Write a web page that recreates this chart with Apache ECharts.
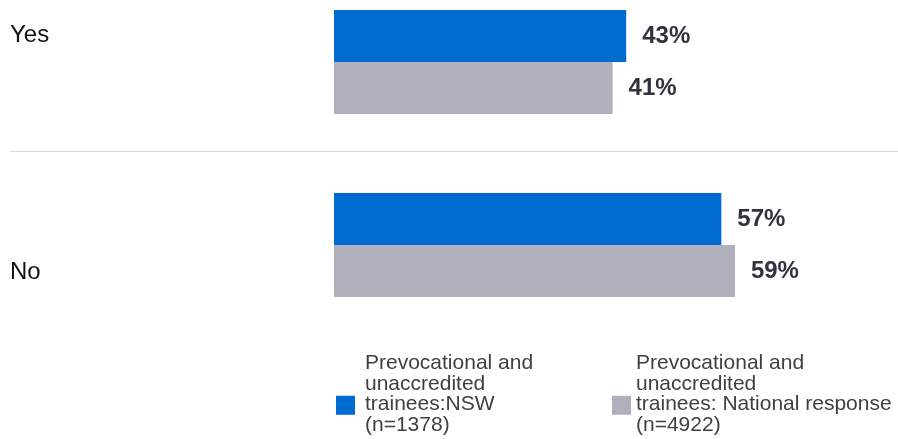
<!DOCTYPE html>
<html>
<head>
<meta charset="utf-8">
<script src="https://cdn.jsdelivr.net/npm/echarts@6/dist/echarts.min.js"></script>
<style>
    html, body { margin: 0; padding: 0; background: #fff; }
    #chart { width: 898px; height: 439px; }
</style>
</head>
<body>
<div id="chart"></div>
<script>
// data
var categories = ['Yes', 'No'];
var seriesNames = [
    'Prevocational and\nunaccredited\ntrainees:NSW\n(n=1378)',
    'Prevocational and\nunaccredited\ntrainees: National response\n(n=4922)'
];
var nswValues = [43, 57];
var nationalValues = [41, 59];
var colors = ['#006bd1', '#b0b0bc'];

var FONT = 'Arial, "Liberation Sans", sans-serif';

//图例设置
function makeLegend(name, left, padLeft){
    return {
        data: [name],
        left: left,
        top: 353,
        padding: 0,
        itemWidth: 19,
        itemHeight: 19,
        icon: 'rect',
        selectedMode: false,
        formatter: function(n){
            return n + '\n{s| }';
        },
        textStyle: {
            fontFamily: FONT,
            fontSize: 21,
            lineHeight: 20.5,
            color: '#404040',
            padding: [0, 0, 0, padLeft],
            rich: {
                s: { fontSize: 10, lineHeight: 22 }
            }
        }
    };
}

function makeSeries(name, values, color){
    return {
        name: name,
        type: 'bar',
        barWidth: 52,
        barGap: '0%',
        clip: false,
        data: values,
        itemStyle: { color: color },
        label: {
            show: true,
            position: 'right',
            distance: 16,
            formatter: '{c}%',
            fontFamily: FONT,
            fontSize: 24,
            fontWeight: 'bold',
            color: '#333340'
        }
    };
}

var chart = echarts.init(document.getElementById('chart'));
var option = {
    animation: false,
    grid: { left: 334, right: 0, top: 62, bottom: 194 },
    legend: [
        makeLegend(seriesNames[0], 336, 5),
        makeLegend(seriesNames[1], 612, 0)
    ],
    xAxis: {
        type: 'value',
        min: 0,
        max: 83,
        show: false
    },
    yAxis: {
        type: 'category',
        inverse: true,
        boundaryGap: false,
        data: categories,
        axisLine: { show: false },
        axisTick: { show: false },
        splitLine: { show: false },
        axisLabel: {
            margin: 324,
            align: 'left',
            formatter: function(v){
                return v === 'Yes' ? '{up|' + v + '}' : '{down|' + v + '}';
            },
            rich: {
                up: { fontFamily: FONT, fontSize: 24, color: '#111', padding: [0, 0, 54, 0] },
                down: { fontFamily: FONT, fontSize: 24, color: '#111', padding: [54, 0, 0, 0] }
            }
        }
    },
    series: [
        makeSeries(seriesNames[0], nswValues, colors[0]),
        makeSeries(seriesNames[1], nationalValues, colors[1])
    ]
};
chart.setOption(option);

//分隔线放在两个类目之间
var yTop = chart.convertToPixel({ yAxisIndex: 0 }, categories[0]);
var yBot = chart.convertToPixel({ yAxisIndex: 0 }, categories[1]);
var mid = Math.floor((yTop + yBot) / 2) - 1.5;
chart.setOption({
    graphic: [{
        type: 'line',
        silent: true,
        shape: { x1: 10, y1: mid, x2: 898, y2: mid },
        style: { stroke: '#d9d9d9', lineWidth: 1 }
    }]
});
</script>
</body>
</html>
